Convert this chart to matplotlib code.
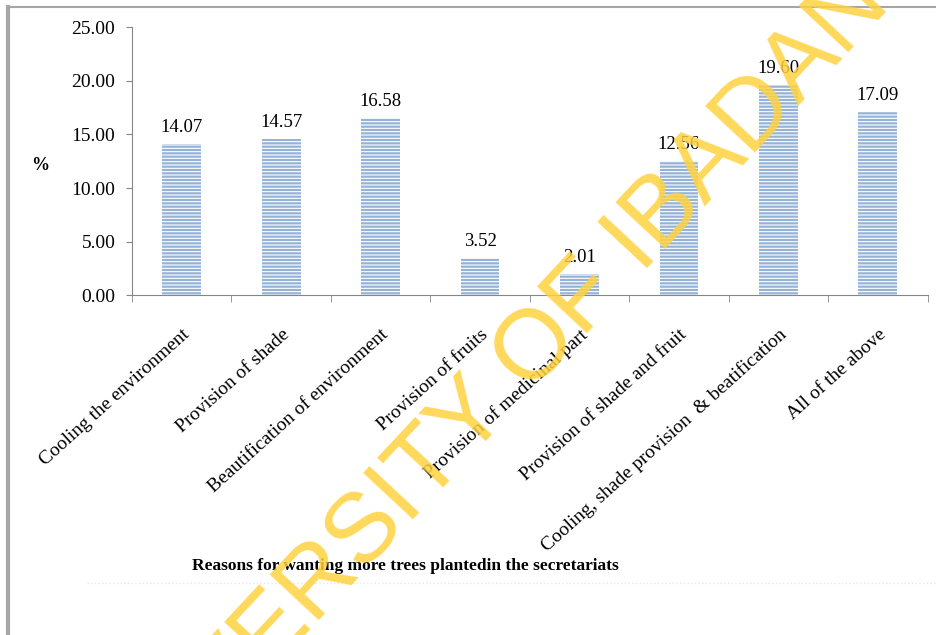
import matplotlib.pyplot as plt
import numpy as np

plt.rcParams['font.family'] = ['Liberation Serif', 'DejaVu Serif']
plt.rcParams['hatch.linewidth'] = 0.8

categories = ['Cooling the environment', 'Provision of shade',
              'Beautification of environment', 'Provision of fruits',
              'Provision of medicinal part', 'Provision of shade and fruit',
              'Cooling, shade provision  & beatification', 'All of the above']
values = [14.07, 14.57, 16.58, 3.52, 2.01, 12.56, 19.60, 17.09]
y_ticks = [0, 5, 10, 15, 20, 25]

bar_color = '#95B3D7'
axis_color = '#868686'

fig = plt.figure(figsize=(9.36, 6.35), dpi=100)

# outer chart frame (only the top and left edges show in the picture)
fig.add_artist(plt.Line2D([0.009, 0.009], [0.0, 0.989], color='#A6A6A6', lw=3))
fig.add_artist(plt.Line2D([0.009, 1.0], [0.989, 0.989], color='#A6A6A6', lw=1.5))
# faint edge of the pasted text box under the chart
fig.add_artist(plt.Line2D([0.093, 1.0], [0.082, 0.082], color='#E8E8E8', lw=1, ls=':'))

ax = fig.add_axes([0.141, 0.535, 0.850, 0.422])
x = np.arange(len(categories))
ax.bar(x, values, width=0.39, color=bar_color, linewidth=0, zorder=2)
# white horizontal stripes on top of the bars
ax.bar(x, values, width=0.39, fill=False, edgecolor='white',
       hatch='-----', linewidth=0, zorder=3)

for xi, v in zip(x, values):
    ax.text(xi, v + 0.75, f'{v:.2f}', ha='center', va='bottom', fontsize=13.5)

ax.set_xlim(-0.5, len(categories) - 0.5)
ax.set_ylim(0, 25)
ax.set_yticks(y_ticks)
ax.set_yticklabels([f'{t:.2f}' for t in y_ticks], fontsize=14)
ax.set_xticks(x)
ax.set_xticklabels(categories, rotation=42, ha='right', va='top',
                   rotation_mode='anchor', fontsize=14)
ax.set_xticks(np.arange(len(categories) + 1) - 0.5, minor=True)
ax.tick_params(axis='x', which='major', length=0, pad=22)
ax.tick_params(axis='x', which='minor', length=5, color=axis_color, direction='out')
ax.tick_params(axis='y', length=4, color=axis_color, pad=8)

for side in ['top', 'right']:
    ax.spines[side].set_visible(False)
for side in ['left', 'bottom']:
    ax.spines[side].set_color(axis_color)

fig.text(0.043, 0.74, '%', fontsize=13, fontweight='bold', ha='center', va='center')
fig.text(0.433, 0.109, 'Reasons for wanting more trees plantedin the secretariats',
         fontsize=12.5, fontweight='bold', ha='center', va='center')

# watermark
fig.text(0.515, 0.357, 'UNIVERSITY OF IBADAN', fontsize=71, rotation=47,
         family='Liberation Sans', color='#FFD23F', alpha=0.85,
         ha='center', va='center', rotation_mode='anchor', zorder=10)

fig.savefig('out.png', dpi=100)
